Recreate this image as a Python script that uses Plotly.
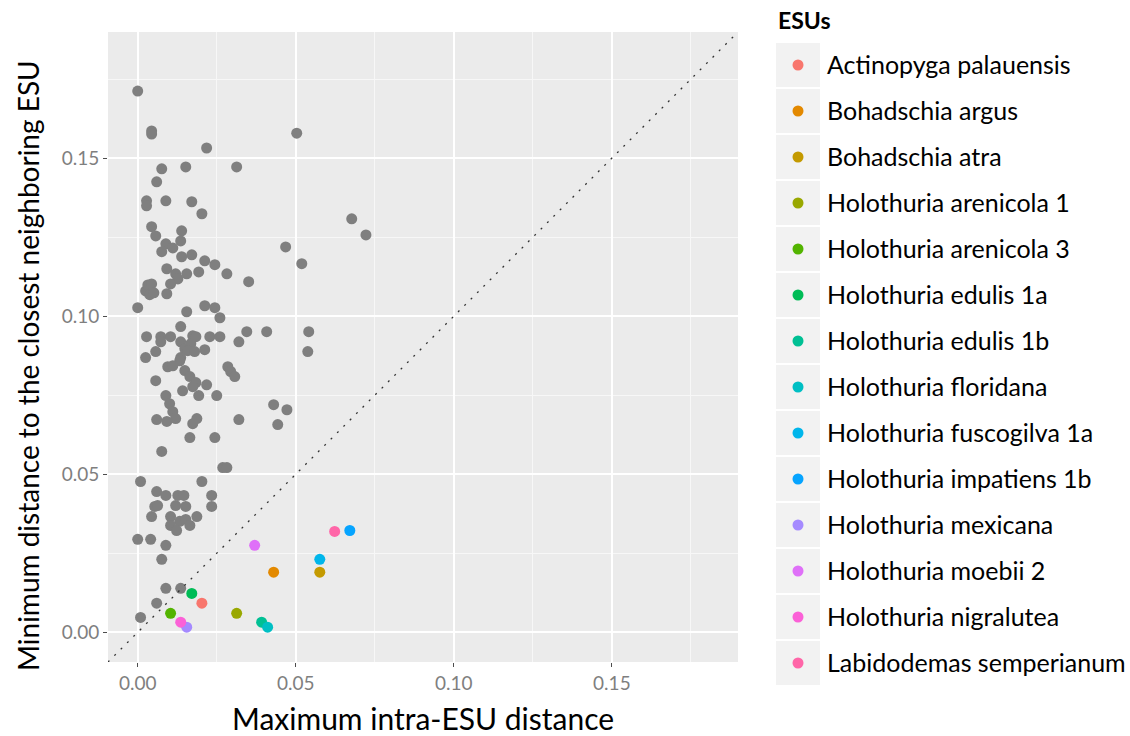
import plotly.graph_objects as go

W, H = 1130, 736
FONT = "Lato"

# ESUs without a distinct colour (drawn in grey)
other_x = [
    0.0000, 0.0044, 0.0044, 0.0503, 0.0218, 0.0076, 0.0152, 0.0313, 0.0060, 0.0028,
    0.0028, 0.0089, 0.0171, 0.0203, 0.0044, 0.0057, 0.0139, 0.0136, 0.0089, 0.0111,
    0.0076, 0.0139, 0.0171, 0.0212, 0.0244, 0.0092, 0.0120, 0.0127, 0.0155, 0.0193,
    0.0282, 0.0351, 0.0104, 0.0025, 0.0032, 0.0044, 0.0038, 0.0051, 0.0092, 0.0000,
    0.0155, 0.0212, 0.0244, 0.0260, 0.0136, 0.0028, 0.0073, 0.0073, 0.0104, 0.0136,
    0.0174, 0.0184, 0.0168, 0.0228, 0.0260, 0.0345, 0.0408, 0.0320, 0.0541, 0.0538,
    0.0057, 0.0025, 0.0149, 0.0158, 0.0180, 0.0212, 0.0136, 0.0133, 0.0095, 0.0111,
    0.0149, 0.0165, 0.0184, 0.0285, 0.0294, 0.0307, 0.0057, 0.0174, 0.0218, 0.0142,
    0.0193, 0.0089, 0.0250, 0.0101, 0.0111, 0.0120, 0.0060, 0.0092, 0.0174, 0.0187,
    0.0320, 0.0430, 0.0472, 0.0443, 0.0165, 0.0244, 0.0076, 0.0269, 0.0282, 0.0009,
    0.0203, 0.0060, 0.0089, 0.0127, 0.0146, 0.0234, 0.0054, 0.0063, 0.0120, 0.0152,
    0.0234, 0.0044, 0.0104, 0.0133, 0.0152, 0.0187, 0.0104, 0.0123, 0.0165, 0.0000,
    0.0041, 0.0089, 0.0076, 0.0089, 0.0136, 0.0060, 0.0009, 0.0677, 0.0722, 0.0468,
    0.0519,
]
other_y = [
    0.1712, 0.1586, 0.1576, 0.1579, 0.1532, 0.1466, 0.1472, 0.1472, 0.1425, 0.1365,
    0.1349, 0.1365, 0.1362, 0.1324, 0.1283, 0.1254, 0.1270, 0.1238, 0.1229, 0.1216,
    0.1204, 0.1188, 0.1194, 0.1175, 0.1163, 0.1150, 0.1134, 0.1118, 0.1134, 0.1140,
    0.1134, 0.1109, 0.1102, 0.1080, 0.1099, 0.1102, 0.1068, 0.1074, 0.1071, 0.1027,
    0.1014, 0.1033, 0.1027, 0.0995, 0.0967, 0.0935, 0.0935, 0.0919, 0.0935, 0.0919,
    0.0938, 0.0935, 0.0913, 0.0935, 0.0935, 0.0951, 0.0951, 0.0919, 0.0951, 0.0888,
    0.0888, 0.0869, 0.0897, 0.0891, 0.0888, 0.0894, 0.0869, 0.0859, 0.0840, 0.0843,
    0.0828, 0.0809, 0.0790, 0.0840, 0.0825, 0.0809, 0.0796, 0.0777, 0.0783, 0.0764,
    0.0749, 0.0749, 0.0749, 0.0723, 0.0698, 0.0676, 0.0673, 0.0667, 0.0660, 0.0676,
    0.0673, 0.0720, 0.0704, 0.0657, 0.0616, 0.0616, 0.0572, 0.0521, 0.0521, 0.0477,
    0.0477, 0.0445, 0.0433, 0.0433, 0.0433, 0.0433, 0.0398, 0.0401, 0.0401, 0.0398,
    0.0398, 0.0366, 0.0366, 0.0351, 0.0357, 0.0366, 0.0338, 0.0322, 0.0338, 0.0294,
    0.0294, 0.0275, 0.0231, 0.0139, 0.0139, 0.0092, 0.0047, 0.1308, 0.1257, 0.1219,
    0.1166,
]

# Highlighted ESUs
esu_names = [
    "Actinopyga palauensis", "Bohadschia argus", "Bohadschia atra",
    "Holothuria arenicola 1", "Holothuria arenicola 3", "Holothuria edulis 1a",
    "Holothuria edulis 1b", "Holothuria floridana", "Holothuria fuscogilva 1a",
    "Holothuria impatiens 1b", "Holothuria mexicana", "Holothuria moebii 2",
    "Holothuria nigralutea", "Labidodemas semperianum",
]
esu_x = [0.0203, 0.0430, 0.0576, 0.0313, 0.0104, 0.0171, 0.0392,
         0.0411, 0.0576, 0.0671, 0.0155, 0.0370, 0.0136, 0.0623]
esu_y = [0.0092, 0.0190, 0.0190, 0.0060, 0.0060, 0.0123, 0.0032,
         0.0016, 0.0231, 0.0322, 0.0016, 0.0275, 0.0032, 0.0319]

palette = ["#F8766D", "#E38900", "#C49A00", "#99A800", "#53B400", "#00BC56", "#00C094",
           "#00BFC4", "#00B6EB", "#06A4FF", "#A58AFF", "#DF70F8", "#FB61D7", "#FF66A8"]

tick_vals = [0.0, 0.05, 0.10, 0.15]
tick_text = ["0.00", "0.05", "0.10", "0.15"]
lim = [-0.0094, 0.1899]

# panel placement in pixels
PL, PR, PT, PB = 108, 738, 32, 662
KEY_L, KEY_R, KEY_T, KEY_PITCH = 776, 820, 42, 46

fig = go.Figure()

fig.add_trace(go.Scatter(
    x=other_x, y=other_y, mode="markers",
    marker=dict(color="#7F7F7F", size=11),
    showlegend=False, hoverinfo="x+y",
))
fig.add_trace(go.Scatter(
    x=esu_x, y=esu_y, mode="markers", text=esu_names,
    marker=dict(color=palette, size=11),
    showlegend=False, hoverinfo="text+x+y",
))

# key column: grey boxes and coloured dots, labels as the axis tick labels
n = len(esu_names)
fig.add_trace(go.Bar(
    x=[1] * n, y=esu_names, orientation="h", width=44 / 46, base=0,
    marker=dict(color="#F2F2F2", line_width=0),
    xaxis="x2", yaxis="y2", showlegend=False, hoverinfo="skip",
))
fig.add_trace(go.Scatter(
    x=[0.5] * n, y=esu_names, mode="markers",
    marker=dict(color=palette, size=11),
    xaxis="x2", yaxis="y2", showlegend=False, hoverinfo="y",
))

# panel background and 1:1 reference line
fig.add_shape(type="rect", xref="x domain", yref="y domain", x0=0, x1=1, y0=0, y1=1,
              fillcolor="#EBEBEB", line_width=0, layer="below")
fig.add_shape(type="line", xref="x", yref="y", x0=lim[0], y0=lim[0], x1=lim[1], y1=lim[1],
              line=dict(color="#333333", width=1.3, dash="2px,7px"), layer="above")

axis_common = dict(
    range=lim, tickvals=tick_vals, ticktext=tick_text,
    showgrid=True, gridcolor="#FFFFFF", gridwidth=1.6,
    minor=dict(dtick=0.025, tick0=0.025, showgrid=True, gridcolor="#F7F7F7", gridwidth=0.7),
    zeroline=False, showline=False,
    ticks="outside", ticklen=4, tickwidth=1, tickcolor="#4D4D4D",
    tickfont=dict(family=FONT, size=19, color="#7F7F7F"),
    automargin=False, fixedrange=True,
)

fig.update_layout(
    width=W, height=H,
    margin=dict(l=0, r=0, t=0, b=0),
    paper_bgcolor="#FFFFFF", plot_bgcolor="rgba(0,0,0,0)",
    font=dict(family=FONT, color="#000000"),
    xaxis=dict(domain=[PL / W, PR / W], anchor="y", **axis_common),
    yaxis=dict(domain=[1 - PB / H, 1 - PT / H], anchor="x", **axis_common),
    xaxis2=dict(domain=[KEY_L / W, KEY_R / W], range=[0, 1], anchor="y2",
                visible=False, fixedrange=True),
    yaxis2=dict(domain=[1 - (KEY_T + KEY_PITCH * n) / H, 1 - KEY_T / H],
                anchor="x2", side="right", type="category",
                categoryorder="array", categoryarray=esu_names,
                range=[n - 0.5, -0.5], showgrid=False, zeroline=False, showline=False,
                ticks="", ticklabelstandoff=6,
                tickfont=dict(family=FONT, size=25, color="#000000"),
                automargin=False, fixedrange=True),
    showlegend=False,
    bargap=0,
)

fig.add_annotation(text="Maximum intra-ESU distance", xref="paper", yref="paper",
                   x=(PL + PR) / 2 / W, y=1 - 718 / H, xanchor="center", yanchor="middle",
                   showarrow=False, font=dict(family=FONT, size=30, color="#000000"))
fig.add_annotation(text="Minimum distance to the closest neighboring ESU", xref="paper", yref="paper",
                   x=28 / W, y=1 - 366 / H, xanchor="center", yanchor="middle",
                   textangle=-90, showarrow=False,
                   font=dict(family=FONT, size=28, color="#000000"))
fig.add_annotation(text="<b>ESUs</b>", xref="paper", yref="paper",
                   x=776 / W, y=1 - 20 / H, xanchor="left", yanchor="middle",
                   showarrow=False, font=dict(family=FONT, size=23, color="#000000"))

fig.write_html("out.html")
